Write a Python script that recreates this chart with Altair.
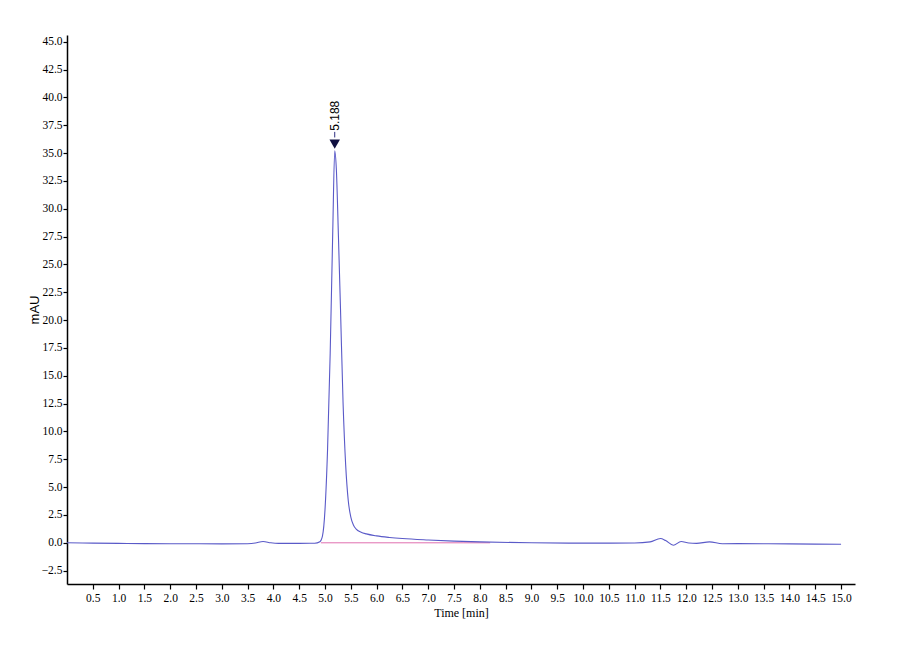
import altair as alt
import pandas as pd

# Chromatogram trace (time in min, absorbance in mAU)
time_min = [0.0, 0.5, 1.0, 1.5, 2.0, 2.5, 3.0, 3.5, 3.65, 3.8, 3.95, 4.1, 4.5, 4.8,
            4.9, 4.95, 5.0, 5.05, 5.1, 5.15, 5.188, 5.22, 5.26, 5.3, 5.35, 5.4, 5.45,
            5.5, 5.55, 5.6, 5.7, 5.8, 6.0, 6.25, 6.5, 7.0, 7.5, 8.0, 9.0, 10.0, 11.0,
            11.3, 11.5, 11.6, 11.75, 11.9, 12.05, 12.2, 12.45, 12.7, 13.0, 14.0, 15.0]
mau = [0.0, -0.03, -0.05, -0.07, -0.08, -0.09, -0.1, -0.08, -0.02, 0.12, 0.0, -0.05, -0.05, -0.04,
       0.1, 0.6, 3.0, 8.5, 17.0, 28.0, 35.2, 33.5, 27.5, 21.0, 12.5, 7.0, 3.8,
       2.3, 1.6, 1.25, 0.95, 0.8, 0.62, 0.48, 0.38, 0.25, 0.15, 0.08, 0.0, -0.03, -0.02,
       0.08, 0.38, 0.2, -0.22, 0.12, -0.02, -0.05, 0.08, -0.08, -0.07, -0.1, -0.13]

# Integration baseline under the main peak
base_start = [4.92]
base_end = [8.2]
base_level = [0.0]

# Peak annotation
peak_time = [5.188]
peak_label = ["5.188"]
marker_y = [35.8]
stem_y = [36.4]
stem_y2 = [36.9]
label_y = [37.0]

x_ticks = [0.5 * i for i in range(1, 31)]
y_ticks = [-2.5 + 2.5 * i for i in range(0, 20)]

FONT = "Liberation Serif, Times New Roman, serif"
SANS = "Liberation Sans, Arial, sans-serif"

trace = pd.DataFrame({"t": time_min, "v": mau})
base = pd.DataFrame({"t": base_start, "t2": base_end, "v": base_level})
peak = pd.DataFrame({"t": peak_time, "lab": peak_label, "my": marker_y,
                     "sy": stem_y, "sy2": stem_y2, "ly": label_y})

xscale = alt.Scale(domain=[0, 15.27], nice=False, zero=False)
yscale = alt.Scale(domain=[-3.7, 45.6], nice=False, zero=False)

xaxis = alt.Axis(values=x_ticks, tickCount=100, format=".1f", title="Time [min]", grid=False,
                 labelOverlap=False, labelFlush=False,
                 domainColor="black", domainWidth=1.5, tickColor="black", tickSize=5,
                 tickWidth=1.2, labelFont=FONT, labelFontSize=11.5, labelColor="black",
                 labelPadding=3, titleFont=FONT, titleFontSize=12, titleFontWeight="normal",
                 titleColor="black", titlePadding=4)
yaxis = alt.Axis(values=y_ticks, tickCount=100, format=".1f", title="mAU", grid=False,
                 labelOverlap=False, labelFlush=False,
                 domainColor="black", domainWidth=1.5, tickColor="black", tickSize=4,
                 tickWidth=1.2, labelFont=FONT, labelFontSize=11.5, labelColor="black",
                 labelPadding=1, titleFont=SANS, titleFontSize=13, titleFontWeight="normal",
                 titleColor="black", titleX=-33, titleBaseline="middle")

line = alt.Chart(trace).mark_line(color="#5a5ac8", strokeWidth=1.1, interpolate="monotone").encode(
    x=alt.X("t:Q", scale=xscale, axis=xaxis),
    y=alt.Y("v:Q", scale=yscale, axis=yaxis),
)

baseline = alt.Chart(base).mark_rule(color="#e070b0", strokeWidth=1).encode(
    x="t:Q", x2="t2:Q", y="v:Q"
)

stem = alt.Chart(peak).mark_rule(color="#303080", strokeWidth=1).encode(
    x="t:Q", y="sy:Q", y2="sy2:Q"
)

marker = alt.Chart(peak).mark_point(shape="triangle-down", filled=True, color="#101040",
                                    size=110, opacity=1).encode(
    x="t:Q", y="my:Q"
)

label = alt.Chart(peak).mark_text(angle=270, align="left", baseline="middle",
                                  font=SANS, fontSize=12, color="black").encode(
    x="t:Q", y="ly:Q", text="lab:N"
)

chart = alt.layer(baseline, line, stem, marker, label).properties(
    width=788, height=549,
    autosize=alt.AutoSizeParams(type="none"),
    padding={"left": 59, "top": 27, "right": 30, "bottom": 60},
    background="#ffffff",
).configure_view(stroke=None)

chart.save("out.html", embed_options={"renderer": "svg", "actions": False})
